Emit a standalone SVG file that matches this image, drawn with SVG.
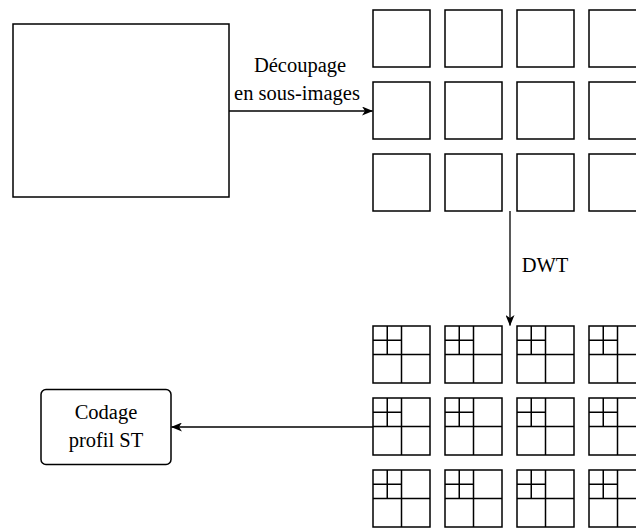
<svg xmlns="http://www.w3.org/2000/svg" xmlns:xlink="http://www.w3.org/1999/xlink" width="636" height="528" viewBox="0 0 636 528">
<style>
.b{fill:#fff;stroke:#000;stroke-width:1.5}
.l{fill:none;stroke:#000;stroke-width:1.5}
.c{fill:none;stroke:#000;stroke-width:1.3}
.t{font-family:"Liberation Serif","Times New Roman",serif;font-size:20.5px;fill:#000;text-anchor:middle}
</style>
<defs>
<marker id="ah" viewBox="0 0 11 9" refX="10.5" refY="4.5" markerWidth="11" markerHeight="9" markerUnits="userSpaceOnUse" orient="auto">
<path d="M0,0 L11,4.5 L0,9 L3,4.5 z" fill="#000"/>
</marker>
<rect id="sq" class="b" x="0" y="0" width="57" height="57"/>
<g id="wsq">
<rect class="b" x="0" y="0" width="57" height="57"/>
<path class="l" d="M28.5,0 V57 M0,28.5 H57 M14.25,0 V28.5 M0,14.25 H28.5"/>
</g>
</defs>
<g id="image"><rect class="b" x="13" y="24" width="216" height="173"/></g>
<g id="subimages">
<use xlink:href="#sq" x="373" y="10"/><use xlink:href="#sq" x="445" y="10"/><use xlink:href="#sq" x="517" y="10"/><use xlink:href="#sq" x="589" y="10"/>
<use xlink:href="#sq" x="373" y="82"/><use xlink:href="#sq" x="445" y="82"/><use xlink:href="#sq" x="517" y="82"/><use xlink:href="#sq" x="589" y="82"/>
<use xlink:href="#sq" x="373" y="154"/><use xlink:href="#sq" x="445" y="154"/><use xlink:href="#sq" x="517" y="154"/><use xlink:href="#sq" x="589" y="154"/>
</g>
<g id="wavelets">
<use xlink:href="#wsq" x="373" y="326"/><use xlink:href="#wsq" x="445" y="326"/><use xlink:href="#wsq" x="517" y="326"/><use xlink:href="#wsq" x="589" y="326"/>
<use xlink:href="#wsq" x="373" y="398"/><use xlink:href="#wsq" x="445" y="398"/><use xlink:href="#wsq" x="517" y="398"/><use xlink:href="#wsq" x="589" y="398"/>
<use xlink:href="#wsq" x="373" y="470"/><use xlink:href="#wsq" x="445" y="470"/><use xlink:href="#wsq" x="517" y="470"/><use xlink:href="#wsq" x="589" y="470"/>
</g>
<g id="codage">
<rect class="b" x="41" y="389.5" width="130" height="75" rx="5"/>
<text class="t" x="106" y="419">Codage</text>
<text class="t" x="106" y="447">profil ST</text>
</g>
<g id="connectors">
<line class="c" x1="229" y1="111" x2="372.5" y2="111" marker-end="url(#ah)"/>
<text class="t" x="300" y="72">Découpage</text>
<text class="t" x="297" y="100">en sous-images</text>
<line class="c" x1="510" y1="211" x2="510" y2="325.5" marker-end="url(#ah)"/>
<text class="t" x="545" y="272">DWT</text>
<line class="c" x1="373" y1="427" x2="171.5" y2="427" marker-end="url(#ah)"/>
</g>
</svg>
